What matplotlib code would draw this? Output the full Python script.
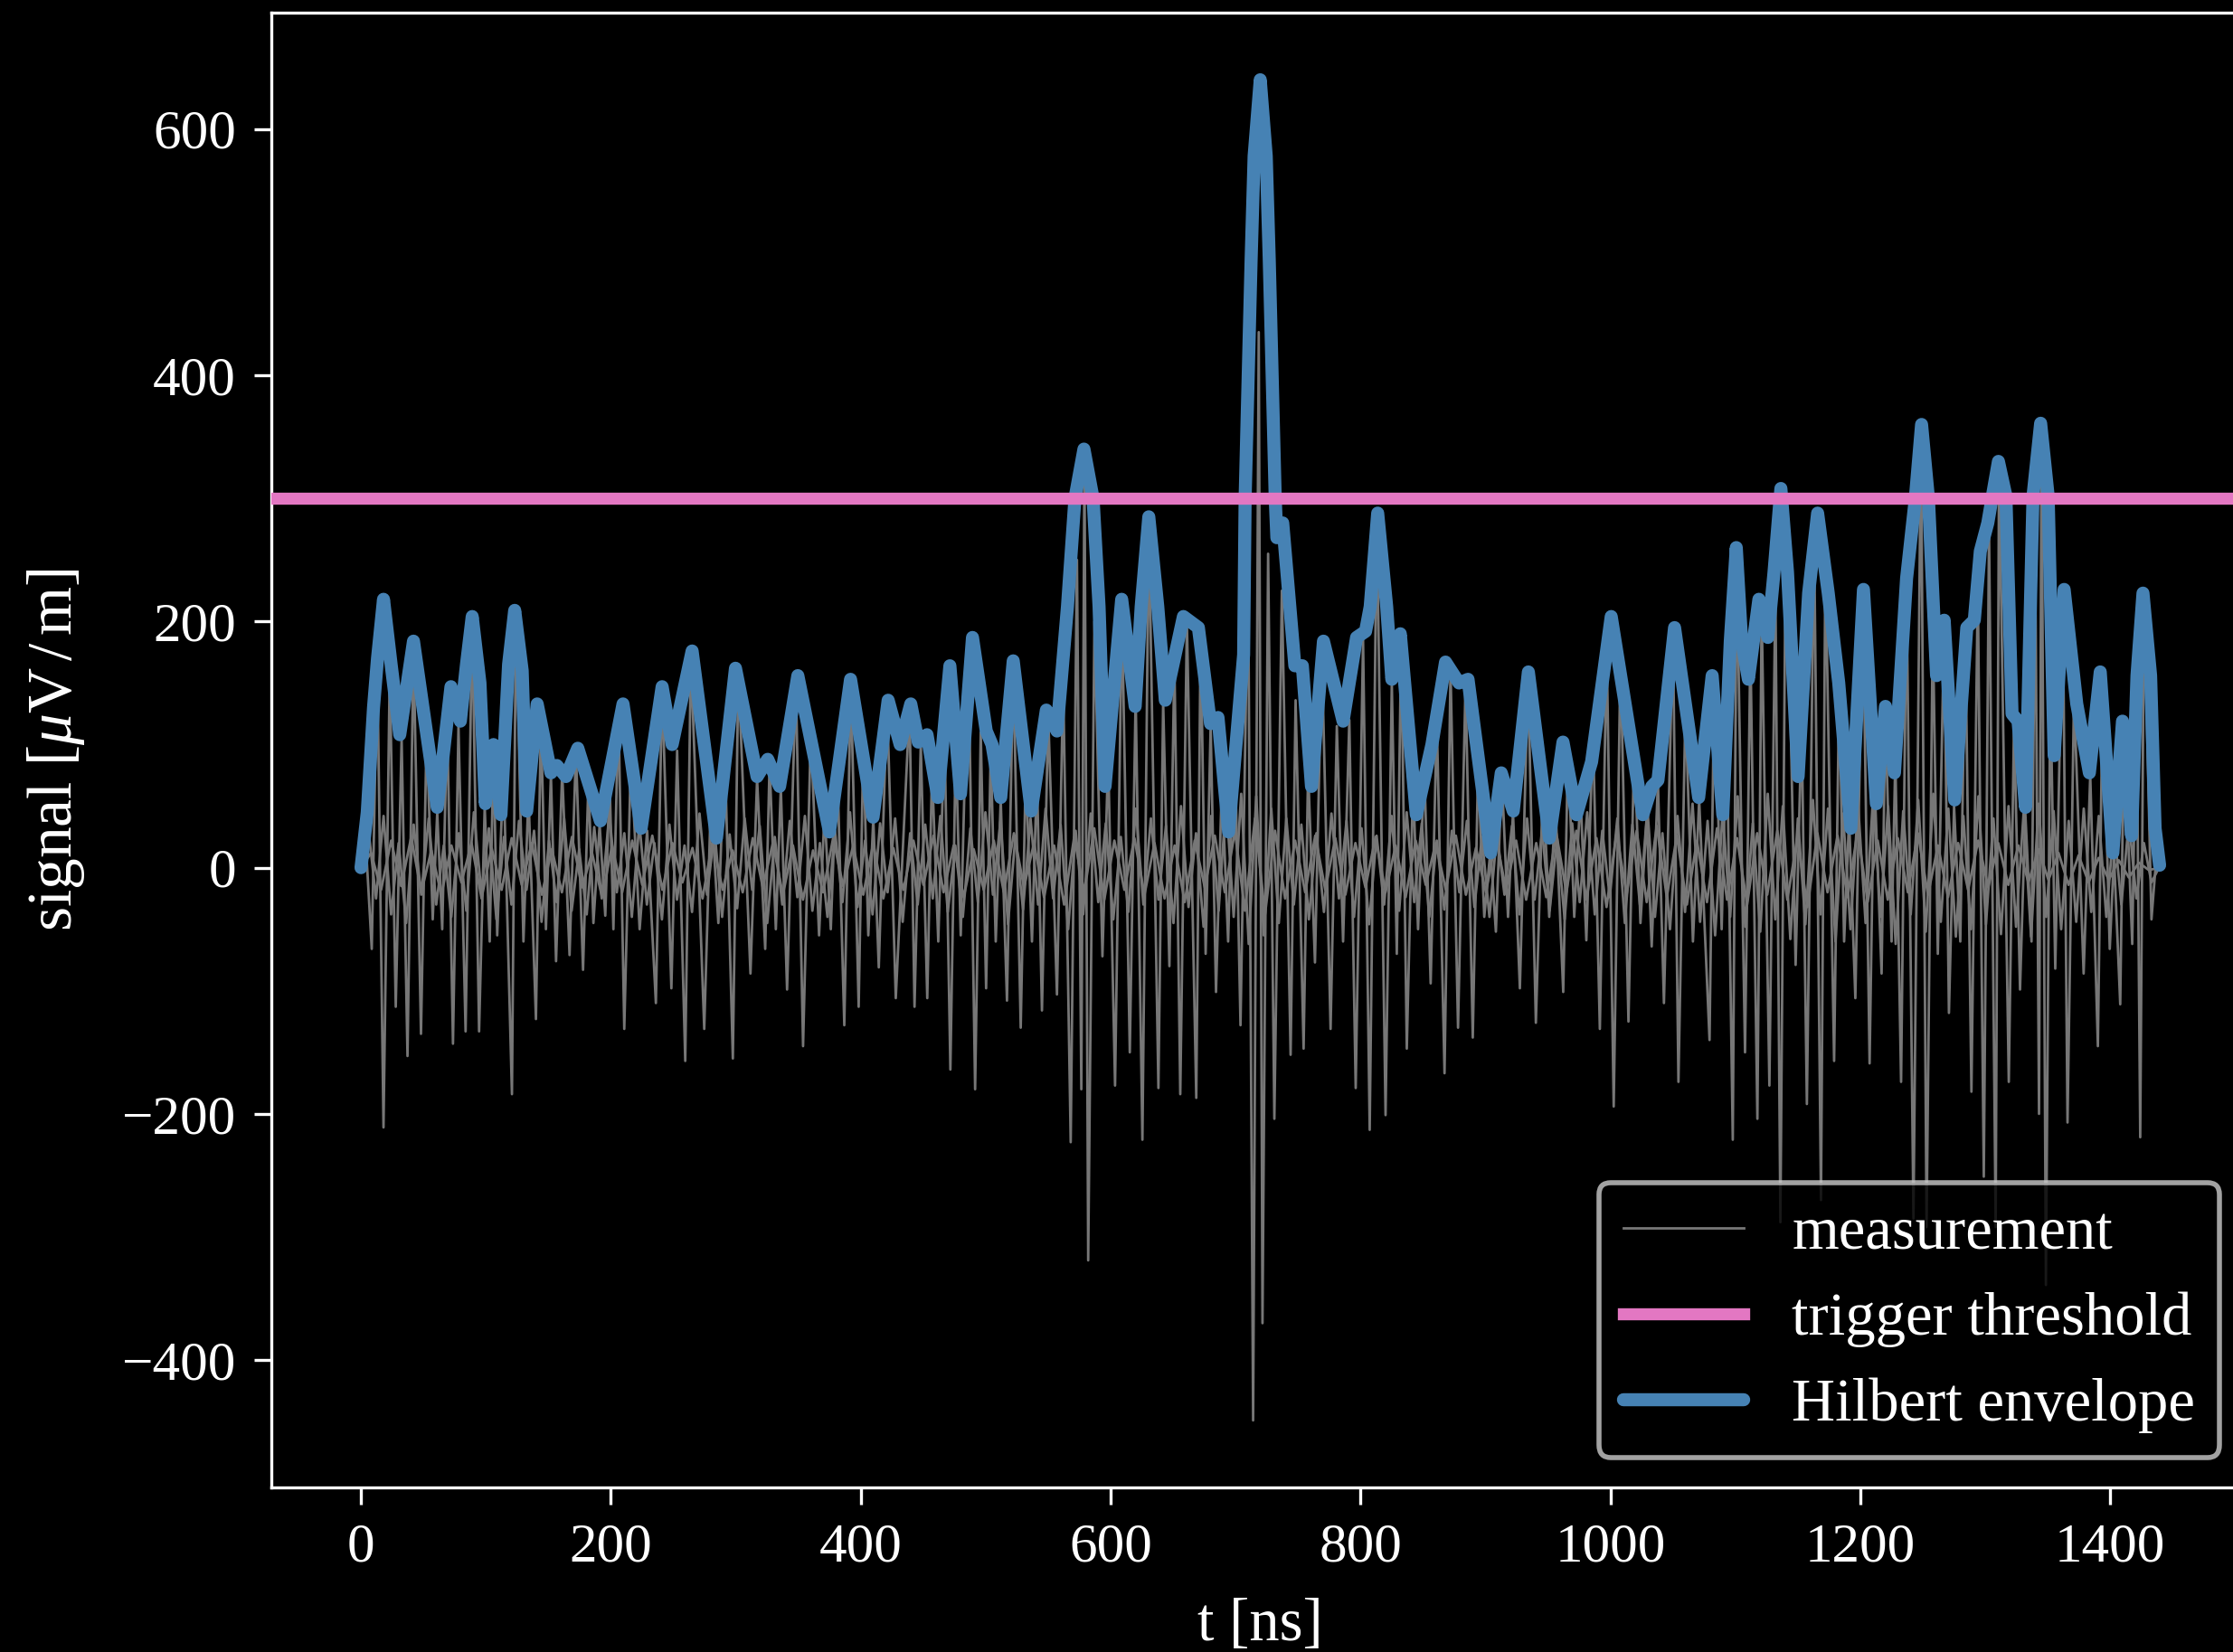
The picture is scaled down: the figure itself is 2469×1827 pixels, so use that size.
import numpy as np
import matplotlib.pyplot as plt

meas_t = [0, 3, 8.6, 13, 18, 23, 27.8, 32.5, 37.2, 42, 48, 52.5, 57.4, 61, 65, 69, 73.6, 78, 83.7, 89,
          94.5, 99, 103, 106, 109, 114, 120.8, 124, 130, 134, 140, 144, 148, 152, 156.1, 161, 166.9, 172, 177.7, 182,
          186, 191, 195.5, 199, 202, 206, 210.7, 216, 223, 229, 236, 241, 248.4, 253, 259.5, 264, 274.7, 280, 286, 291,
          297.6, 302, 311.7, 317, 323.5, 327, 332, 336, 341, 348, 353.8, 360, 366.6, 371, 376, 381, 386.8, 392, 398.3, 402,
          406, 410, 414.4, 421, 428, 439, 443, 448, 453.2, 457, 462, 467, 471.7, 476, 480, 486, 491.5, 496, 500.3, 504,
          508, 512, 517, 522, 528, 532, 537, 541, 545, 550, 557, 562, 568, 573, 576.5, 579, 582, 587, 593.4, 598,
          603.5, 609, 615.3, 620, 625.4, 630.5, 638.2, 642, 647, 651, 655.7, 661, 668.5, 672, 676, 680, 684.3, 689, 694, 699,
          703.9, 710, 714, 718.5, 721.5, 726, 731, 737, 744, 748, 754.4, 758, 763.5, 769, 776, 781, 786, 791, 796.1, 802,
          807.3, 813, 820, 825, 829, 832.5, 837, 842, 846, 851, 856.1, 861, 867.2, 872, 878, 884, 889.8, 894, 899, 904,
          908.3, 913, 918, 922, 927.5, 934, 940.3, 946, 951, 956, 962.2, 966, 971, 976, 980.7, 986, 991.5, 997, 1002.6, 1008,
          1014.4, 1019, 1024, 1029, 1033, 1038, 1042.8, 1050, 1054.4, 1060, 1066, 1071, 1079.3, 1083, 1089, 1093, 1097.9, 1101, 1107.7, 1112,
          1117.6, 1121, 1127.2, 1132, 1136, 1140.5, 1148.2, 1153, 1157.2, 1163, 1168.5, 1172, 1179, 1183, 1187, 1191, 1196, 1202, 1207.4, 1211,
          1217, 1220, 1225, 1228, 1232.6, 1237, 1242.5, 1248.5, 1253, 1258, 1262, 1267, 1270.9, 1275, 1280, 1284, 1288.9, 1294, 1298.8, 1303,
          1308.3, 1311, 1318.8, 1323, 1327.8, 1332, 1337, 1340, 1343, 1345, 1348.5, 1352, 1356, 1362, 1365.8, 1371, 1378.7, 1384, 1390.1, 1394,
          1399.6, 1403, 1408, 1411, 1417.6, 1421, 1424, 1427, 1433, 1437, 1439]
meas_v = [0, 35, -66, 170, -211, 160, -113, 105, -153, 180, -135, 110, -42, 45, -50, 120, -143, 115, -133, 200,
          -133, 50, -60, 95, -55, 80, -184, 205, -60, 60, -123, 120, -50, 75, -76, 78, -71, 95, -83, 70,
          -45, 35, -39, 70, -50, 130, -131, 90, -50, 30, -110, 145, -98, 95, -157, 172, -131, 55, -45, 100,
          -155, 160, -86, 72, -66, 85, -50, 65, -99, 152, -145, 110, -55, 45, -50, 90, -128, 150, -113, 100,
          -55, 40, -81, 135, -106, 130, -113, 100, -106, 80, -60, 110, -164, 100, -55, 185, -180, 110, -98, 95,
          -60, 55, -108, 165, -130, 80, -60, 75, -116, 125, -103, 150, -223, 250, -180, 335, -319, 200, -72, 90,
          -177, 210, -150, 140, -221, 280, -179, 135, -80, 170, -184, 200, -187, 190, -70, 115, -101, 70, -60, 120,
          -128, 243, -449, 435, -370, 255, -204, 225, -152, 136, -147, 80, -77, 175, -131, 115, -60, 120, -179, 185,
          -213, 285, -201, 150, -70, 185, -147, 70, -50, 80, -94, 120, -167, 160, -130, 150, -138, 80, -40, 15,
          -52, 75, -40, 45, -98, 155, -126, 70, -40, 50, -101, 95, -40, 60, -59, 110, -131, 180, -194, 170,
          -125, 100, -45, 40, -64, 70, -110, 190, -174, 130, -60, 55, -140, 150, -50, 120, -221, 255, -150, 180,
          -204, 210, -177, 230, -288, 300, -79, 120, -192, 270, -270, 250, -157, 145, -60, 40, -106, 220, -159, 80,
          -86, 125, -60, 90, -174, 230, -285, 355, -292, 200, -70, 195, -118, 50, -60, 190, -182, 230, -251, 275,
          -292, 328, -174, 120, -99, 45, -60, 250, -200, 358, -339, 150, -82, 222, -207, 140, -86, 75, -145, 150,
          -66, 10, -111, 115, -62, 150, -219, 220, -42, 10, 0]

# measurement: two weaker channels on an even sample grid
meas2_v = [0, 30, -25, 42, -38, 20, -45, 35, -22, 40, -30, 18, -40, 28, -35, 45, -20, 32, -42, 25,
           -30, 38, -18, 30, -44, 22, -28, 40, -35, 15, -38, 33, -25, 44, -20, 28, -40, 36, -30, 20,
           -42, 35, -26, 18, -36, 44, -22, 30, -40, 27, -33, 40, -18, 34, -45, 25, -30, 38, -24, 42,
           -35, 20, -40, 30, -28, 45, -32, 22, -38, 36, -20, 40, -44, 28, -30, 35, -25, 42, -36, 18,
           -40, 32, -28, 45, -22, 38, -46, 26, -34, 40, -30, 48, -25, 35, -50, 30, -38, 44, -28, 36,
           -42, 25, -36, 48, -30, 40, -26, 34, -45, 50, -32, 28, -48, 42, -35, 55, -40, 60, -62, 58,
           -55, 48, -45, 40, -30, 35, -42, 28, -36, 44, -25, 38, -40, 32, -46, 26, -30, 42, -35, 45,
           -28, 36, -40, 22, -34, 30, -20, 38, -32, 25, -40, 28, -22, 34, -38, 40, -26, 30, -35, 24,
           -42, 36, -28, 45, -38, 30, -24, 40, -45, 35, -30, 48, -40, 28, -50, 42, -36, 52, -44, 38,
           -55, 45, -40, 58, -48, 36, -52, 60, -42, 50, -58, 40, -46, 55, -38, 48, -60, 44, -50, 52,
           -45, 58, -40, 50, -62, 46, -38, 55, -52, 60, -44, 48, -56, 42, -50, 58, -46, 40, -54, 50,
           -48, 44, -56, 52, -40, 46, -50, 38, -44, 48, -36, 42, -40, 34, -30, 38, -25, 20, -12, 0]
meas3_v = [0, 12, -18, 22, -15, 25, -20, 14, -22, 18, -12, 20, -25, 16, -18, 24, -14, 20, -22, 15,
           -20, 25, -16, 12, -24, 18, -20, 22, -14, 26, -18, 20, -12, 16, -25, 22, -18, 14, -20, 24,
           -16, 20, -22, 18, -26, 14, -20, 24, -15, 18, -22, 20, -25, 16, -18, 22, -14, 26, -20, 18,
           -24, 15, -18, 22, -20, 28, -16, 20, -24, 18, -30, 25, -20, 32, -26, 22, -18, 24, -22, 20,
           -25, 18, -28, 22, -16, 26, -20, 30, -35, 40, -38, 30, -25, 22, -20, 26, -18, 24, -22, 20,
           -16, 25, -20, 18, -24, 22, -14, 20, -18, 26, -22, 16, -20, 24, -18, 22, -26, 20, -24, 28,
           -20, 30, -26, 24, -32, 28, -22, 30, -28, 34, -24, 26, -30, 22, -28, 32, -26, 24, -30, 28,
           -22, 30, -26, 24, -32, 28, -20, 26, -24, 30, -28, 22, -26, 24, -20, 28, -22, 18, -24, 20,
           -18, 22, -16, 20, -14, 18, -12, 15, -10, 12, -14, 10, -12, 8, -10, 6, -8, 4, -2, 0]

# hilbert envelope, peaks / valleys / shoulders
env_t = [0, 5, 10, 13.2, 18, 24.1, 31, 42, 61, 72, 79.5, 84.4, 89, 95.2, 99.5, 106, 112, 118.1, 123, 129,
         132.6, 141, 152, 156.7, 164, 173.5, 191.6, 209.7, 224.2, 241, 249, 265, 284.5, 299.7, 317, 325.5, 335, 349.6, 374.9, 391.8,
         409.8, 421.9, 431.5, 440, 446, 453, 461.7, 471.3, 479.8, 489.4, 500.4, 505, 512, 522, 536.4, 548.5, 557, 565.4, 571.4, 578.6,
         585.9, 590.7, 595.5, 608.8, 619.6, 624.4, 630.5, 637.7, 643.7, 658.2, 670.2, 679.9, 685.9, 694.4, 706.4, 707.6, 712.4, 714.8, 719.7, 724.5,
         726.9, 731.7, 733, 737.7, 747.4, 753.4, 760.7, 770.3, 786, 796.8, 804, 807.7, 813.7, 820.9, 825, 831.8, 844.6, 857.1, 868, 878.8,
         886, 904.1, 912.6, 922.2, 934.3, 951.1, 962, 972.8, 984.9, 1000.6, 1025.9, 1033.1, 1038, 1051.3, 1070.6, 1081.4, 1089.9, 1095.9, 1100.7, 1105,
         1110.4, 1118.8, 1126, 1130.9, 1136.4, 1141.7, 1150.2, 1158.6, 1165.8, 1174.3, 1182.7, 1192.4, 1202.5, 1212.8, 1220.1, 1227.3, 1237, 1244, 1249, 1254.5,
         1261, 1267.1, 1275.5, 1285.2, 1291.2, 1296, 1302, 1305.7, 1310.5, 1316.5, 1321.4, 1326.2, 1332.2, 1338.2, 1344.3, 1350.3, 1355.1, 1363.1, 1373.2, 1383.3,
         1392, 1402.1, 1409.8, 1417.1, 1421.4, 1426.2, 1432.3, 1435.9, 1439.5]
env_v = [0, 45, 130, 170, 218, 165, 108, 184, 49, 147, 119, 165, 204, 150, 52, 100, 43, 165, 209, 160,
         46, 133, 77, 83, 74, 97, 38, 133, 32, 147, 100, 176, 24, 162, 74, 88, 66, 156, 29, 153,
         41, 136, 100, 133, 102, 108, 57, 164, 60, 187, 111, 100, 57, 168, 46, 128, 111, 212, 300, 340,
         300, 212, 66, 218, 131, 212, 285, 212, 136, 204, 195, 117, 122, 29, 173, 300, 494, 578, 640, 578,
         494, 300, 268, 280, 164, 164, 66, 184, 119, 187, 192, 212, 288, 212, 153, 190, 43, 100, 167, 150,
         153, 12, 77, 46, 159, 24, 102, 43, 86, 204, 43, 66, 71, 195, 57, 156, 43, 184, 260, 184,
         153, 218, 187, 240, 308, 240, 74, 223, 288, 223, 150, 32, 226, 52, 131, 77, 235, 300, 360, 300,
         156, 201, 55, 195, 201, 257, 280, 302, 330, 302, 125, 119, 49, 302, 361, 302, 91, 226, 133, 77,
         159, 12, 119, 26, 156, 223, 156, 32, 2]

threshold = 300

plt.style.use('dark_background')
plt.rcParams['font.family'] = ['Liberation Serif', 'DejaVu Serif']
plt.rcParams['mathtext.fontset'] = 'custom'
plt.rcParams['mathtext.rm'] = 'Liberation Serif'
plt.rcParams['mathtext.it'] = 'Liberation Serif:italic'
plt.rcParams['font.size'] = 11

fig = plt.figure(figsize=(2469 / 400, 1827 / 400), dpi=400)
ax = fig.add_axes([0.1214, 0.0996, 0.886, 0.8927])

grey = '#777777'
ax.plot(meas_t, meas_v, color=grey, lw=0.5, label='measurement')
ax.plot(np.linspace(0, 1439, len(meas2_v)), meas2_v, color=grey, lw=0.5)
ax.plot(np.linspace(0, 1439, len(meas3_v)), meas3_v, color=grey, lw=0.5)
ax.axhline(threshold, color='#e377c2', lw=2.4, zorder=3, label='trigger threshold')
ax.plot(env_t, env_v, color='#4682b4', lw=2.6, solid_joinstyle='round',
        solid_capstyle='round', label='Hilbert envelope')

for s in ax.spines.values():
    s.set_linewidth(0.6)
ax.tick_params(width=0.6)
ax.set_xlabel('t [ns]', fontsize=12, labelpad=5)
ax.set_ylabel(r'signal [$\mu$V$\,/\,$m]', fontsize=12.5, labelpad=7)
ax.legend(loc='lower right', fontsize=12)

fig.savefig('out.png', dpi=400)
